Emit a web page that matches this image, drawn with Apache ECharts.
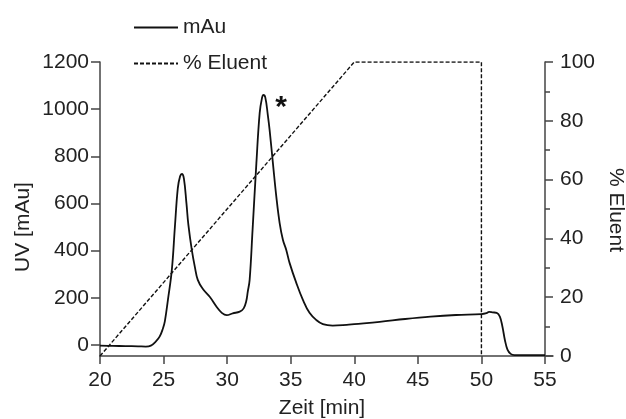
<!DOCTYPE html>
<html>
<head>
<meta charset="utf-8">
<script src="https://cdn.jsdelivr.net/npm/echarts@6/dist/echarts.min.js"></script>
<style>
html,body{margin:0;padding:0;background:#fff;}
#chart{width:626px;height:419px;}
</style>
</head>
<body>
<div id="chart"></div>
<script>
// ---- data ----
const uvTime = [20.0,21.0,22.0,23.0,23.6,24.0,24.4,24.7,24.95,25.1,25.34,25.65,25.89,26.12,26.3,26.44,26.6,26.8,26.95,27.22,27.46,27.69,28.08,28.63,29.18,29.58,29.97,30.44,30.99,31.3,31.5,31.62,31.77,32.0,32.3,32.56,32.75,32.85,33.0,33.2,33.34,33.6,33.87,34.13,34.39,34.65,34.91,35.44,35.96,36.48,37.0,37.53,38.3,39.4,40,42,44,46,48,50,50.4,50.6,50.9,51.2,51.45,51.65,51.85,52.05,52.3,52.6,55];
const uvValue = [-3,-4,-5,-6,-7,-3,15,36,70,100,190,318,500,665,715,725,705,600,510,403,331,276,238,204,161,136,126,134,141,155,185,225,276,488,771,984,1050,1060,1050,975,912,771,628,517,445,403,348,263,191,136,106,88,82,85,88,98,110,120,127,131,135,140,138,136,120,78,20,-20,-38,-43,-43];
const eluentTime = [20,40,50,50];
const eluentValue = [0,100,100,0];
const xTicks = [20,25,30,35,40,45,50,55];
const uvTicks = [0,200,400,600,800,1000,1200];
const seriesNames = ['mAu','% Eluent'];
const xName = 'Zeit [min]';
const yLeftName = 'UV [mAu]';
const yRightName = '% Eluent';
const peakMark = '*';

// ---- chart ----
const font = 'Liberation Sans, Arial, Helvetica, sans-serif';
const fs = 21;
const txt = '#222';
const axisCol = '#444';
const chart = echarts.init(document.getElementById('chart'), null, {renderer:'canvas'});
const uvData = uvTime.map((t,i)=>[t,uvValue[i]]);
const elData = eluentTime.map((t,i)=>[t,eluentValue[i]]);
const plain = v => String(v);

chart.setOption({
  animation:false,
  backgroundColor:'#fff',
  grid:{left:100,right:73,top:62,bottom:63,containLabel:false},
  legend:{
    orient:'vertical', left:133, top:17, padding:0,
    itemWidth:44, itemHeight:20, itemGap:15,
    itemStyle:{color:'transparent',borderColor:'transparent',borderWidth:0,opacity:0},
    textStyle:{fontFamily:font,fontSize:fs,color:txt},
    data:seriesNames
  },
  xAxis:{
    type:'value', min:20, max:55.63,
    axisLine:{onZero:false,lineStyle:{color:axisCol,width:1.5}},
    axisTick:{customValues:xTicks,length:8,lineStyle:{color:axisCol,width:1.5}},
    axisLabel:{customValues:xTicks,formatter:plain,margin:14,fontFamily:font,fontSize:fs,color:txt},
    splitLine:{show:false}
  },
  yAxis:[{
    type:'value', min:-47, max:1200, position:'left',
    axisLine:{show:true,onZero:false,lineStyle:{color:axisCol,width:1.5}},
    axisTick:{show:true,customValues:uvTicks,length:9,lineStyle:{color:axisCol,width:1.5}},
    axisLabel:{customValues:uvTicks,formatter:plain,margin:11,fontFamily:font,fontSize:fs,color:txt},
    splitLine:{show:false}
  },{
    type:'value', min:0, max:100, interval:20, position:'right', offset:-8,
    axisLine:{show:true,onZero:false,lineStyle:{color:axisCol,width:1.5}},
    axisTick:{show:true,length:8,lineStyle:{color:axisCol,width:1.5}},
    minorTick:{show:true,splitNumber:2,length:5,lineStyle:{color:axisCol,width:1.5}},
    axisLabel:{formatter:plain,margin:15,fontFamily:font,fontSize:fs,color:txt},
    splitLine:{show:false}
  }],
  series:[{
    name:seriesNames[0], type:'line', data:uvData, yAxisIndex:0,
    symbol:'none', smooth:0.4,
    lineStyle:{color:'#111',width:1.8},
    itemStyle:{color:'#111'}
  },{
    name:seriesNames[1], type:'line', data:elData, yAxisIndex:1,
    symbol:'none',
    lineStyle:{color:'#111',width:1.4,type:[4,2]},
    itemStyle:{color:'#111'}
  }],
  graphic:[
    {type:'text',x:322,y:408,style:{text:xName,fontFamily:font,fontSize:fs,fill:txt,align:'center',verticalAlign:'middle'}},
    {type:'text',x:23,y:227,rotation:Math.PI/2,style:{text:yLeftName,fontFamily:font,fontSize:fs,fill:txt,align:'center',verticalAlign:'middle'}},
    {type:'text',x:616,y:210,rotation:-Math.PI/2,style:{text:yRightName,fontFamily:font,fontSize:fs,fill:txt,align:'center',verticalAlign:'middle'}},
    {type:'text',x:281,y:108,style:{text:peakMark,fontFamily:font,fontSize:30,fontWeight:'bold',fill:'#111',align:'center',verticalAlign:'middle'}}
  ]
});
</script>
</body>
</html>
